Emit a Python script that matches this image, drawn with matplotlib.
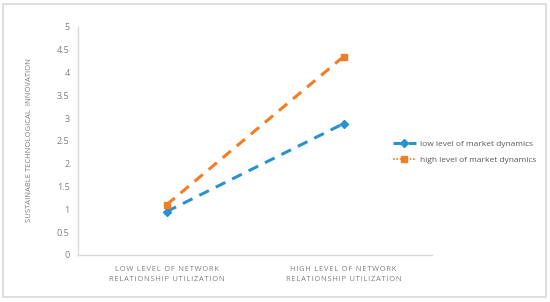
import numpy as np
import matplotlib.pyplot as plt
from matplotlib.lines import Line2D
from matplotlib.patches import Rectangle

# data
categories = ['LOW LEVEL OF NETWORK\nRELATIONSHIP UTILIZATION',
              'HIGH LEVEL OF NETWORK\nRELATIONSHIP UTILIZATION']
low_dyn = [0.95, 2.88]
high_dyn = [1.10, 4.35]
series_names = ['low level of market dynamics', 'high level of market dynamics']
yticks = [0, 0.5, 1, 1.5, 2, 2.5, 3, 3.5, 4, 4.5, 5]

blue = '#2A92D0'
orange = '#F47C22'
grey = '#7F7F7F'
fam = ['Open Sans', 'DejaVu Sans']


def spaced(s):
    # mimic the letter-spacing of the x labels with hair spaces
    return '\n'.join('\u200a'.join(line) for line in s.split('\n'))


fig = plt.figure(figsize=(5.5, 3.02), dpi=100)
fig.patches.append(Rectangle((3 / 550, 5 / 302), 543 / 550, 293 / 302, transform=fig.transFigure,
                             fill=False, edgecolor='#D9D9D9', linewidth=1.2))
ax = fig.add_axes([78 / 550, 47 / 302, 354 / 550, 228 / 302])

x = np.arange(len(categories))
ax.plot(x, low_dyn, color=blue, linestyle=(0, (3.5, 2.5)), linewidth=2.2,
        marker='D', markersize=4.5)
ax.plot(x, high_dyn, color=orange, linestyle=(0, (3.5, 2.5)), linewidth=2.2,
        marker='s', markersize=5)

ax.set_xlim(-0.5, 1.5)
ax.set_ylim(0, 5)
ax.set_yticks(yticks)
ax.set_yticklabels([('%g' % t) for t in yticks], fontsize=6.5, color=grey, family=fam)
ax.set_xticks(x)
ax.set_xticklabels([spaced(c) for c in categories], fontsize=5.4, color=grey, family=fam,
                   linespacing=1.55)
ax.tick_params(length=0, pad=6)
ax.tick_params(axis='x', pad=8)
for s in ['top', 'right']:
    ax.spines[s].set_visible(False)
for s in ['left', 'bottom']:
    ax.spines[s].set_color('#D9D9D9')
    ax.spines[s].set_linewidth(1)

fig.text(30 / 550, 1 - 140 / 302, 'SUSTAINABLE TECHNOLOGICAL  INNOVATION', rotation=90,
         ha='center', va='center', fontsize=5.5, color=grey, family=fam)

handles = [Line2D([], [], color=blue, linestyle=(0, (3.5, 1.5)), linewidth=2.2,
                  marker='D', markersize=4.5),
           Line2D([], [], color=orange, linestyle=(0, (1, 1)), linewidth=1.2,
                  marker='s', markersize=5)]
fig.legend(handles, series_names, loc='center left', bbox_to_anchor=(385 / 550, 1 - 152 / 302),
           frameon=False, prop={'family': fam, 'size': 6.0}, labelcolor='#595959',
           handlelength=2.8, handletextpad=0.5, labelspacing=1.0)

fig.savefig('out.png', dpi=100)
